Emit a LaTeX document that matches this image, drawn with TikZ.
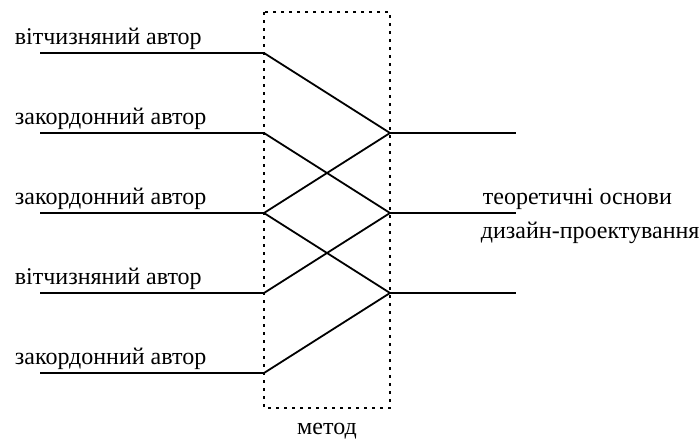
\documentclass[tikz,border=0pt]{standalone}
\usepackage{fontspec}
\setmainfont{Liberation Serif}
\begin{document}
\begin{tikzpicture}[x=1pt,y=-1pt,line width=1.8pt,
  lbl/.style={anchor=base west,inner sep=0pt,font=\fontsize{24}{28}\selectfont},
  methodbox/.style={line width=1.8pt,dash pattern=on 3pt off 5pt}]
\useasboundingbox (0,0) rectangle (699,439);
% method
\draw[methodbox] (264,12) rectangle (390,408);
\node[lbl,anchor=base] (met) at (327,434) {метод};
% authors
\foreach \i/\y/\tx in {1/53/вітчизняний автор,2/133/закордонний автор,3/213/закордонний автор,4/293/вітчизняний автор,5/373/закордонний автор}{
  \coordinate (a\i) at (40,\y);
  \coordinate (b\i) at (264,\y);
  \node[lbl] (t\i) at (14,\y-9) {\tx};
  \draw (a\i) -- (b\i);
}
% result
\foreach \j/\y in {1/133,2/213,3/293}{
  \coordinate (c\j) at (390,\y);
  \coordinate (d\j) at (516,\y);
  \draw (c\j) -- (d\j);
}
\draw (b1) -- (c1) (b2) -- (c2) (b3) -- (c1) (b3) -- (c3) (b4) -- (c2) (b5) -- (c3);
\node[lbl] (res1) at (482,204) {теоретичні основи};
\node[lbl] (res2) at (480,238) {дизайн-проектування};
\end{tikzpicture}
\end{document}
